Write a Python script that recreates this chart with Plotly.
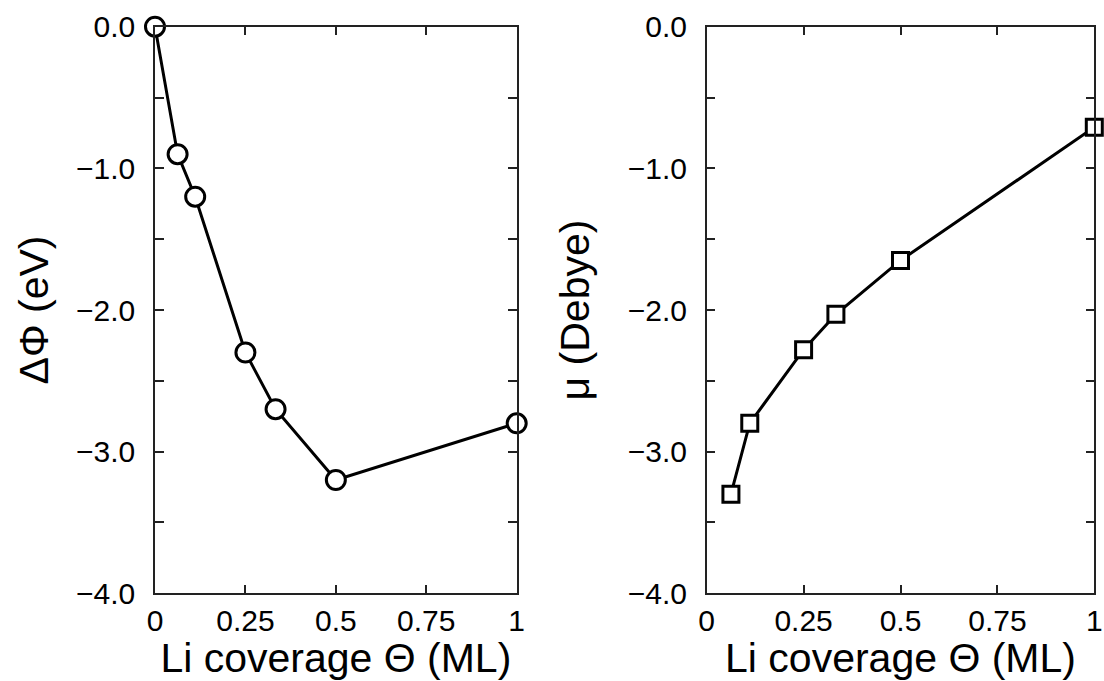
import plotly.graph_objects as go

# Left panel: work-function change vs Li coverage
coverage_left = [0.0, 1/16, 1/9, 0.25, 1/3, 0.5, 1.0]
delta_phi = [0.0, -0.90, -1.20, -2.30, -2.70, -3.20, -2.80]

# Right panel: dipole moment vs Li coverage
coverage_right = [1/16, 1/9, 0.25, 1/3, 0.5, 1.0]
dipole = [-3.30, -2.80, -2.28, -2.03, -1.65, -0.71]

x_tickvals = [0, 0.25, 0.5, 0.75, 1]
x_ticktext = ["0", "0.25", "0.5", "0.75", "1"]
y_tickvals = [-4.0, -3.5, -3.0, -2.5, -2.0, -1.5, -1.0, -0.5, 0.0]
y_ticktext = ["−4.0", "", "−3.0", "", "−2.0", "", "−1.0", "", "0.0"]

FONT = "Liberation Sans, Arial, Helvetica, sans-serif"
W, H = 1104, 681

fig = go.Figure()
fig.add_trace(go.Scatter(
    x=coverage_left, y=delta_phi, mode="lines+markers",
    line=dict(color="black", width=3),
    marker=dict(symbol="circle", size=19, color="white",
                line=dict(color="black", width=3)),
    cliponaxis=False, xaxis="x", yaxis="y", showlegend=False))
fig.add_trace(go.Scatter(
    x=coverage_right, y=dipole, mode="lines+markers",
    line=dict(color="black", width=3),
    marker=dict(symbol="square", size=16, color="white",
                line=dict(color="black", width=3)),
    cliponaxis=False, xaxis="x2", yaxis="y2", showlegend=False))

axis_common = dict(
    showline=True, linecolor="#222", linewidth=1.5, mirror="ticks",
    ticks="inside", ticklen=9, tickwidth=1.5, tickcolor="#222",
    showgrid=False, zeroline=False, automargin=False,
    tickfont=dict(family=FONT, size=30, color="black"),
)

TITLE_FONT = dict(family=FONT, size=41, color="black")

xaxis_common = dict(axis_common, range=[0, 1], tickmode="array",
                    tickvals=x_tickvals, ticktext=x_ticktext,
                    ticklabelstandoff=0,
                    title=dict(text="Li coverage Θ (ML)",
                               font=TITLE_FONT, standoff=3))
yaxis_common = dict(axis_common, range=[-4, 0], tickmode="array",
                    tickvals=y_tickvals, ticktext=y_ticktext,
                    ticklabelstandoff=12)

y_dom = [(H - 593.3) / H, (H - 26.7) / H]

fig.update_layout(
    width=W, height=H,
    margin=dict(l=0, r=0, t=0, b=0),
    paper_bgcolor="white", plot_bgcolor="white",
    font=dict(family=FONT, color="black"),
    xaxis=dict(xaxis_common, domain=[155 / W, 516.7 / W], anchor="y"),
    yaxis=dict(yaxis_common, domain=y_dom, anchor="x",
               title=dict(text="ΔΦ (eV)", font=TITLE_FONT, standoff=15)),
    xaxis2=dict(xaxis_common, domain=[706.7 / W, 1094.3 / W], anchor="y2"),
    yaxis2=dict(yaxis_common, domain=y_dom, anchor="x2",
                title=dict(text="μ (Debye)", font=TITLE_FONT, standoff=25)),
)

fig.write_html("out.html")
